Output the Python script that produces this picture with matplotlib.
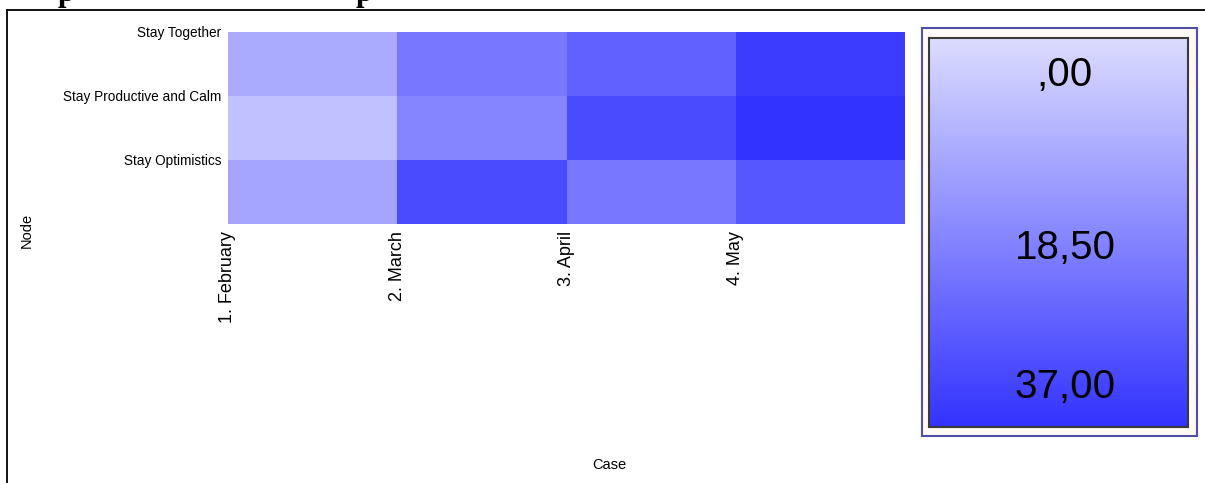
import matplotlib

matplotlib.use("Agg")
import matplotlib.pyplot as plt
import numpy as np
from matplotlib.colors import LinearSegmentedColormap
from matplotlib.lines import Line2D
from matplotlib.patches import Rectangle

W, H = 1205, 483

nodes = ["Stay Together", "Stay Productive and Calm", "Stay Optimistics"]
cases = ["1. February", "2. March", "3. April", "4. May"]
values = [
    [11, 22, 27, 35],
    [6, 19, 32, 37],
    [12, 32, 22, 29],
]
scale_min, scale_max = 0.0, 37.0
scale_labels = [",00", "18,50", "37,00"]

cmap = LinearSegmentedColormap.from_list("blues", ["#DCDCFF", "#3333FF"])
arial = ["Liberation Sans", "DejaVu Sans"]


def fx(px):
    return px / W


def fy(py):
    return 1 - py / H


fig = plt.figure(figsize=(W / 100, H / 100), dpi=100)

# page frame and the cut-off caption above it
fig.add_artist(Line2D([fx(7), fx(7)], [fy(10), 0], color="black", lw=1.3))
fig.add_artist(Line2D([fx(7), 1], [fy(10), fy(10)], color="black", lw=1.3))
for xp in (58, 356):
    fig.text(fx(xp), fy(1), "p", fontsize=22, fontweight="bold", family="Liberation Serif",
             ha="left", va="baseline")

# heatmap
ax = fig.add_axes([fx(228), fy(224), fx(905) - fx(228), fy(32) - fy(224)])
data = np.array(values, dtype=float)
ax.pcolormesh(np.arange(len(cases) + 1), np.arange(len(nodes) + 1), data,
              cmap=cmap, vmin=scale_min, vmax=scale_max, linewidth=0)
ax.set_xlim(0, len(cases))
ax.set_ylim(len(nodes), 0)
for s in ax.spines.values():
    s.set_visible(False)
ax.set_xticks(np.arange(len(cases)))
ax.set_xticklabels(cases, rotation=90, fontsize=13, family=arial, ha="center", va="top")
ax.set_yticks(np.arange(len(nodes)))
ax.set_yticklabels(nodes, fontsize=9.8, family=arial)
ax.tick_params(length=0, pad=5)

fig.text(fx(27), fy(230), "Node", rotation=90, fontsize=10.5, family=arial, ha="center", va="center")
fig.text(fx(609), fy(465), "Case", fontsize=10.5, family=arial, ha="center", va="center")

# colour scale box
box = Rectangle((fx(922), fy(436)), fx(1197) - fx(922), fy(28) - fy(436),
                transform=fig.transFigure, facecolor="#FFF9F5", edgecolor="#5050A8", lw=1.5, zorder=0.5)
fig.add_artist(box)
cax = fig.add_axes([fx(929), fy(427), fx(1188) - fx(929), fy(38) - fy(427)])
cax.set_zorder(2)
grad = np.linspace(scale_min, scale_max, 256).reshape(-1, 1)
cax.imshow(grad, aspect="auto", cmap=cmap, vmin=scale_min, vmax=scale_max,
           extent=[0, 1, scale_max, scale_min])
cax.set_xlim(0, 1)
cax.set_ylim(scale_max, scale_min)
cax.set_xticks([])
cax.set_yticks([])
for s in cax.spines.values():
    s.set_color("#3A3A3A")
    s.set_linewidth(1.5)
for ypx, lab in zip([75, 248, 387], scale_labels):
    cax.text(0.525, scale_min + (scale_max - scale_min) * (ypx - 38) / (427 - 38), lab,
             fontsize=29, family=arial, ha="center", va="center", transform=cax.transData)

fig.savefig("out.png", dpi=100)
